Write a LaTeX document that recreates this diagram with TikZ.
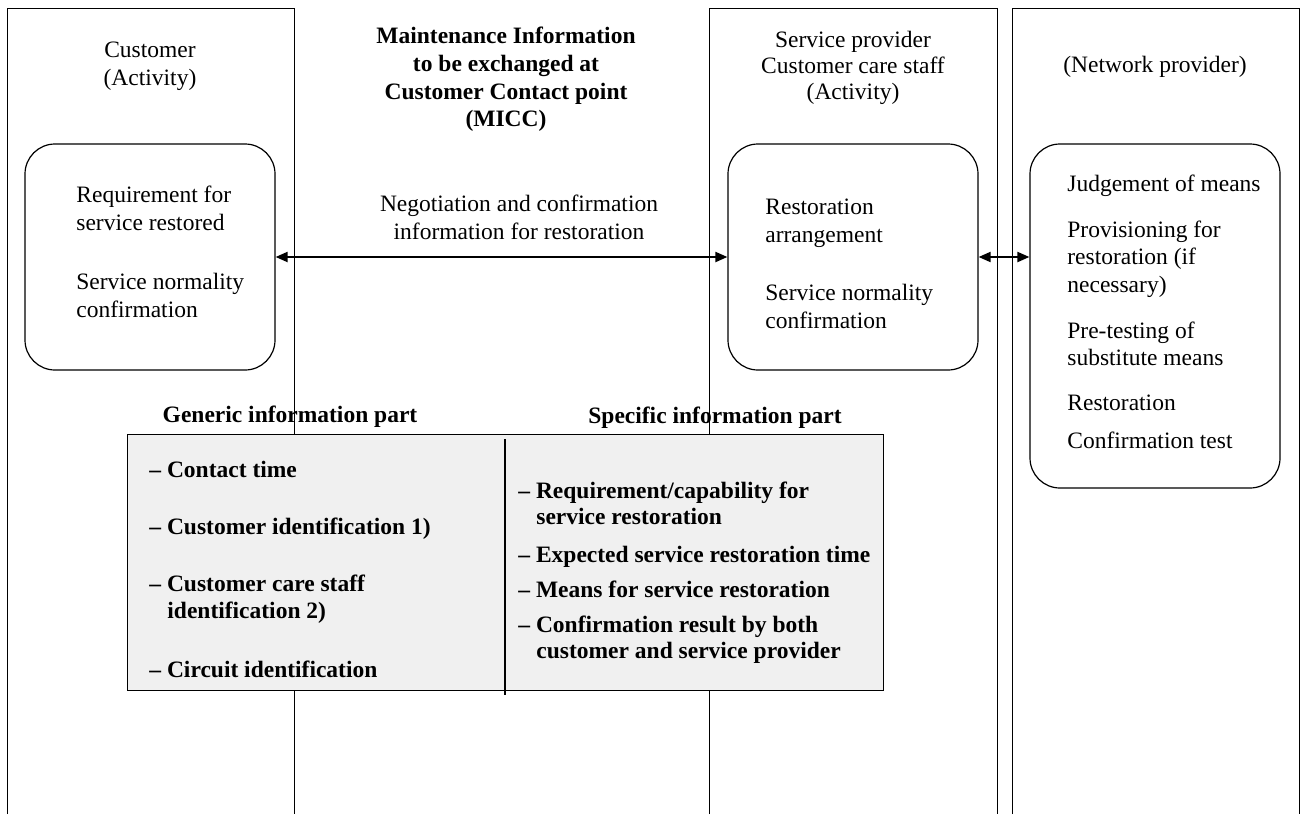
\documentclass[tikz,border=0pt]{standalone}
\usepackage{fontspec}
\setmainfont{Liberation Serif}
\usetikzlibrary{arrows.meta}
\definecolor{boxgrey}{RGB}{240,240,240}
\begin{document}
\begin{tikzpicture}[x=0.5pt,y=-0.5pt,
  every node/.style={font=\fontsize{11.75pt}{13.5pt}\selectfont, inner sep=0pt, text height=8pt, text depth=2.5pt},
  ln/.style={anchor=west},
  lc/.style={anchor=center},
  hb/.style={font=\fontsize{11.75pt}{13.5pt}\selectfont\bfseries},
  lane/.style={draw=black, line width=0.5pt},
  activity/.style={draw=black, line width=0.6pt, rounded corners=15pt, minimum width=125pt},
  arr/.style={line width=1pt, {Triangle[length=6pt,width=5pt]}-{Triangle[length=6pt,width=5pt]}}
]
\useasboundingbox (0,0) rectangle (1301,814);
% lanes
\draw[lane] (7,814) -- (7,8) -- (294,8) -- (294,814);
\draw[lane] (709,814) -- (709,8) -- (997,8) -- (997,814);
\draw[lane] (1012,814) -- (1012,8) -- (1299,8) -- (1299,814);
% lane headers
\node[lc] (cu1) at (150,52) {Customer};
\node[lc] (cu2) at (150,80) {(Activity)};
\node[lc,hb] (ti1) at (506,38) {Maintenance Information};
\node[lc,hb] (ti2) at (506,66) {to be exchanged at};
\node[lc,hb] (ti3) at (506,94) {Customer Contact point};
\node[lc,hb] (ti4) at (506,121) {(MICC)};
\node[lc] (sp1) at (853,42) {Service provider};
\node[lc] (sp2) at (853,68) {Customer care staff};
\node[lc] (sp3) at (853,94) {(Activity)};
\node[lc] (np1) at (1155,67) {(Network provider)};
% activity boxes
\node[activity, minimum height=113pt] (cbox) at (150,257) {};
\node[activity, minimum height=113pt] (sbox) at (853,257) {};
\node[activity, minimum height=172pt] (nbox) at (1155,316) {};
% customer box text
\node[ln] (c1) at (76,197) {Requirement for};
\node[ln] (c2) at (76,225) {service restored};
\node[ln] (c3) at (76,284) {Service normality};
\node[ln] (c4) at (76,312) {confirmation};
% negotiation label
\node[lc] (ng1) at (519,206) {Negotiation and confirmation};
\node[lc] (ng2) at (519,234) {information for restoration};
% service provider box text
\node[ln] (s1) at (765,209) {Restoration};
\node[ln] (s2) at (765,237) {arrangement};
\node[ln] (s3) at (765,295) {Service normality};
\node[ln] (s4) at (765,323) {confirmation};
% network box text
\node[ln] (n1) at (1067,186) {Judgement of means};
\node[ln] (n2) at (1067,232) {Provisioning for};
\node[ln] (n3) at (1067,259) {restoration (if};
\node[ln] (n4) at (1067,287) {necessary)};
\node[ln] (n5) at (1067,333) {Pre-testing of};
\node[ln] (n6) at (1067,360) {substitute means};
\node[ln] (n7) at (1067,405) {Restoration};
\node[ln] (n8) at (1067,443) {Confirmation test};
% arrows
\draw[arr] (cbox.east) -- (sbox.west);
\draw[arr] (sbox.east) -- (sbox.east -| nbox.west);
% information box
\node[draw=black, fill=boxgrey, line width=0.5pt, minimum width=378pt, minimum height=128pt] (gbox) at (505,562) {};
\draw[line width=1pt] (505,439) -- (505,695);
\node[lc,hb] (gh) at (290,417) {Generic information part};
\node[lc,hb] (sh) at (715,418) {Specific information part};
\node[ln,hb] (g1) at (149,472) {– Contact time};
\node[ln,hb] (g2) at (149,529) {– Customer identification 1)};
\node[ln,hb] (g3) at (149,586) {– Customer care staff};
\node[ln,hb] (g4) at (167,613) {identification 2)};
\node[ln,hb] (g5) at (149,672) {– Circuit identification};
\node[ln,hb] (r1) at (518,493) {– Requirement/capability for};
\node[ln,hb] (r2) at (536,519) {service restoration};
\node[ln,hb] (r3) at (518,557) {– Expected service restoration time};
\node[ln,hb] (r4) at (518,592) {– Means for service restoration};
\node[ln,hb] (r5) at (518,627) {– Confirmation result by both};
\node[ln,hb] (r6) at (536,653) {customer and service provider};
\end{tikzpicture}
\end{document}
